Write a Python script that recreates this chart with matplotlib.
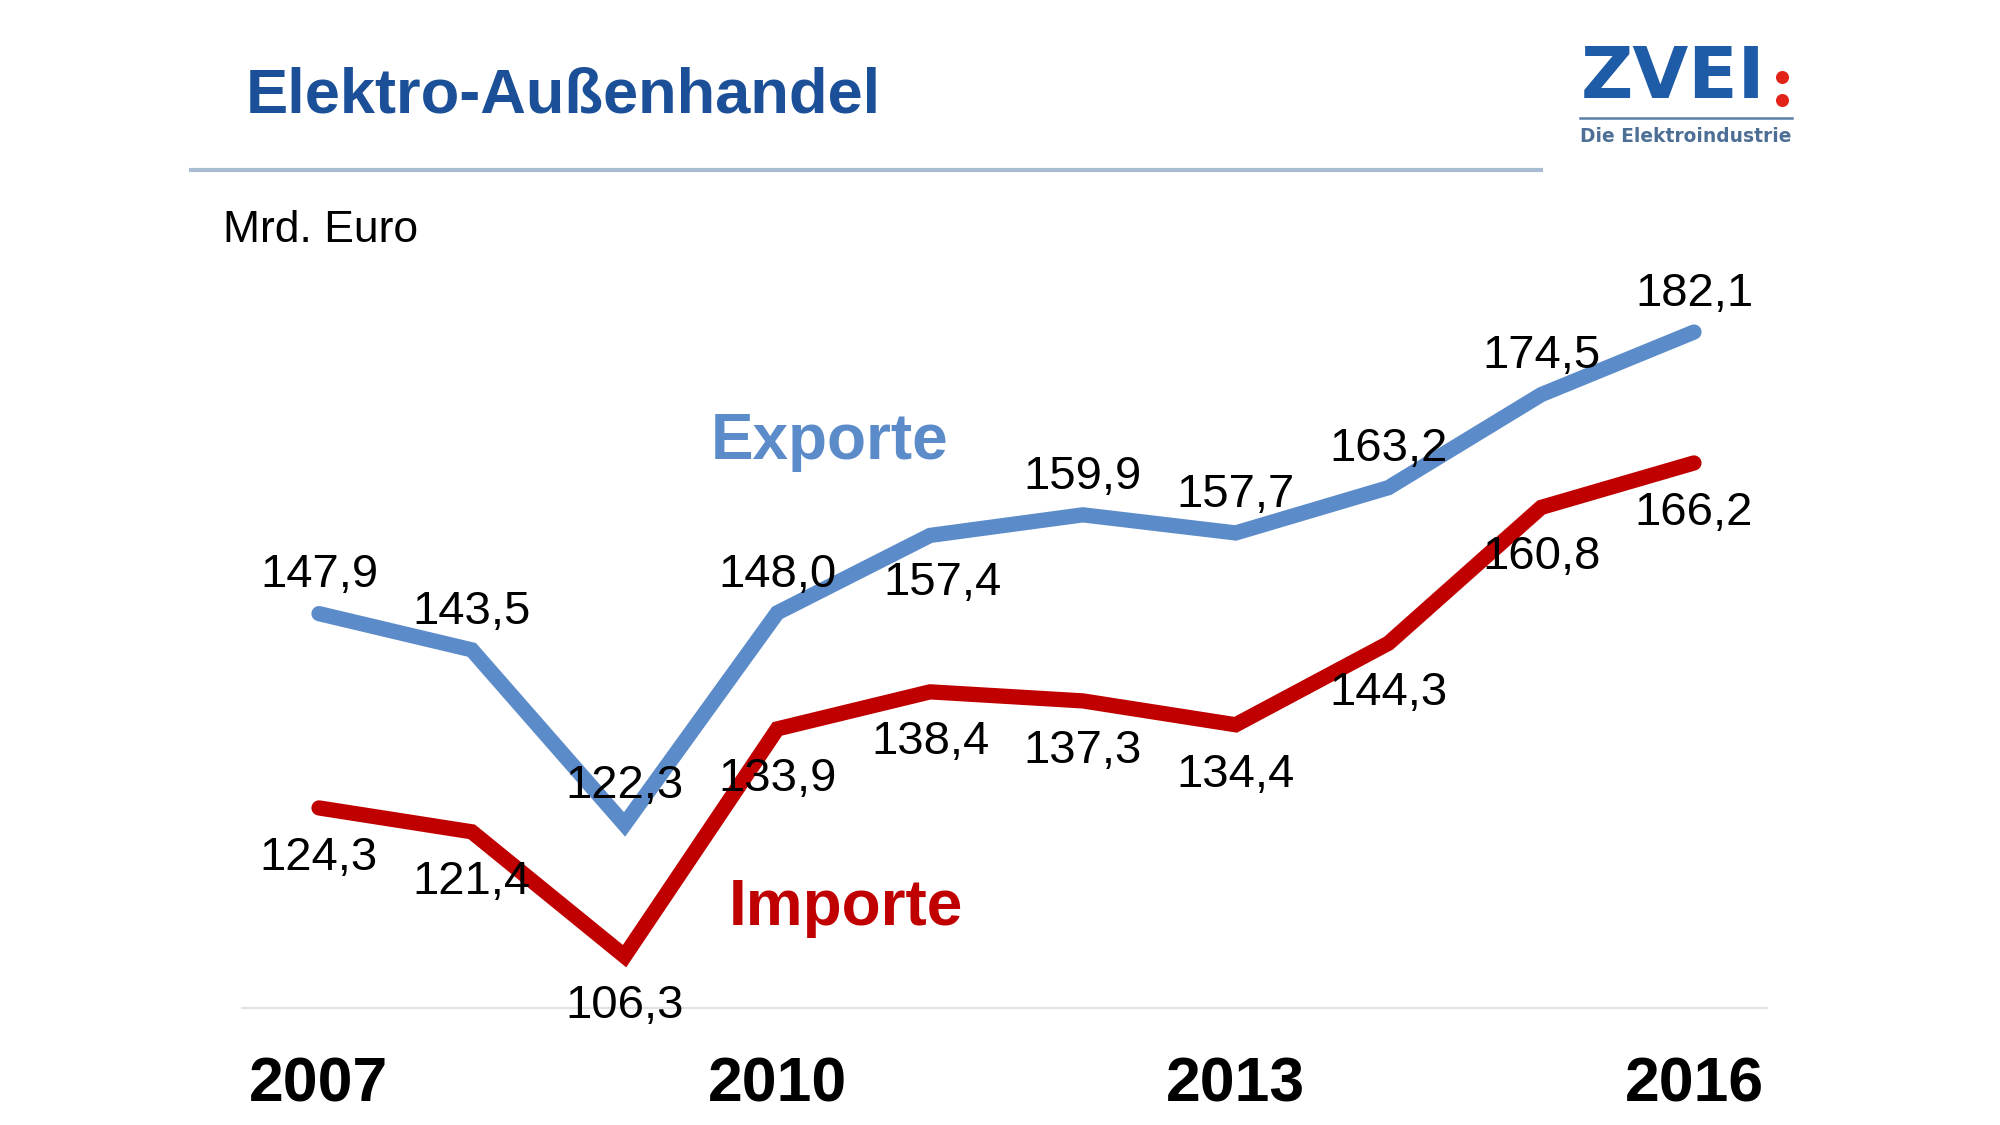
import matplotlib.pyplot as plt

plt.rcParams["font.family"] = ["Liberation Sans", "DejaVu Sans"]

years = [2007, 2008, 2009, 2010, 2011, 2012, 2013, 2014, 2015, 2016]
exporte = [147.9, 143.5, 122.3, 148.0, 157.4, 159.9, 157.7, 163.2, 174.5, 182.1]
importe = [124.3, 121.4, 106.3, 133.9, 138.4, 137.3, 134.4, 144.3, 160.8, 166.2]
tick_years = [2007, 2010, 2013, 2016]

blue = "#5B8BC9"
red = "#C00000"


def fmt(v):
    return f"{v:.1f}".replace(".", ",")


fig = plt.figure(figsize=(20, 11.25), dpi=100)

# overlay in pixel coords for title, rule and logo
bg = fig.add_axes([0, 0, 1, 1])
bg.set_xlim(0, 2000)
bg.set_ylim(1125, 0)
bg.axis("off")

bg.text(246, 96, "Elektro-Außenhandel", fontsize=45.5, fontweight="bold",
        color="#1B4F98", va="center", ha="left")
bg.plot([191, 1541], [170, 170], color="#A7BCD0", lw=3)
bg.text(223, 231, "Mrd. Euro", fontsize=32, color="black", va="center", ha="left")

# logo
bg.text(1581, 98, "ZVEI", fontsize=52, fontweight="bold", color="#1F5CA8",
        family="DejaVu Sans", va="baseline", ha="left")
bg.scatter([1782, 1782], [77, 100], s=70, color="#E2231A", zorder=3)
bg.plot([1580, 1792], [118, 118], color="#5B7FA6", lw=1.8)
bg.text(1580, 137, "Die Elektroindustrie", fontsize=13.4, fontweight="bold",
        family="DejaVu Sans", color="#4D6F96", va="center", ha="left")

# chart
ax = fig.add_axes([0.121, 0.104, 0.7625, 0.7172])
ax.patch.set_alpha(0)
ax.set_xlim(2006.496, 2016.478)
ax.set_ylim(100, 198)

ax.plot(years, exporte, color=blue, lw=11, solid_joinstyle="miter", solid_capstyle="round", zorder=2)
ax.plot(years, importe, color=red, lw=11, solid_joinstyle="miter", solid_capstyle="round", zorder=2)

for x, v in zip(years, exporte):
    if x == 2011:
        off = (9, -34)
    else:
        off = (0, 27.5)
    ax.annotate(fmt(v), (x, v), xytext=off, textcoords="offset points",
                ha="center", va="center", fontsize=34, zorder=3)

for x, v in zip(years, importe):
    ax.annotate(fmt(v), (x, v), xytext=(0, -36), textcoords="offset points",
                ha="center", va="center", fontsize=34, zorder=3)

ax.text(2010.34, 168.7, "Exporte", color=blue, fontsize=46, fontweight="bold",
        ha="center", va="center")
ax.text(2010.45, 112.2, "Importe", color=red, fontsize=46, fontweight="bold",
        ha="center", va="center")

for s in ["top", "left", "right"]:
    ax.spines[s].set_visible(False)
ax.spines["bottom"].set_color("#DDE3E8")
ax.spines["bottom"].set_linewidth(1.5)
ax.set_yticks([])
ax.set_xticks(tick_years)
ax.set_xticklabels([str(y) for y in tick_years], fontsize=45, fontweight="bold")
ax.tick_params(axis="x", length=0, pad=34)

fig.savefig("out.png", dpi=100)
